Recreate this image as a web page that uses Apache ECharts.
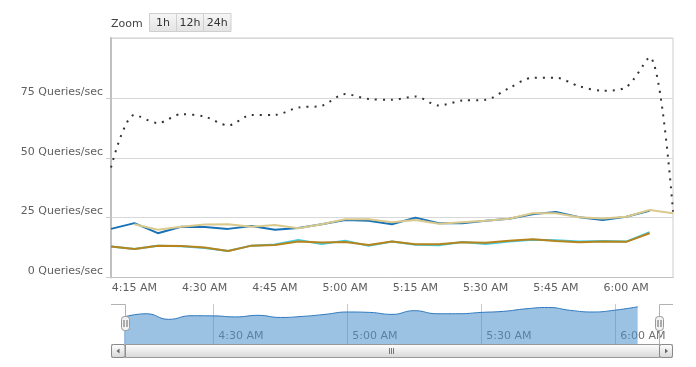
<!DOCTYPE html>
<html>
<head>
<meta charset="utf-8">
<script src="https://cdn.jsdelivr.net/npm/echarts@6/dist/echarts.min.js"></script>
<style>
html,body{margin:0;padding:0;background:#fff;}
#chart{width:696px;height:367px;}
</style>
</head>
<body>
<div id="chart"></div>
<script>
// Time categories (every 5 minutes)
var times = ['4:10','4:15','4:20','4:25','4:30','4:35','4:40','4:45','4:50','4:55',
             '5:00','5:05','5:10','5:15','5:20','5:25','5:30','5:35','5:40','5:45',
             '5:50','5:55','6:00','6:05','6:10'];

// Series values (Queries/sec)
var seriesBlue  = [20.3,22.7,18.5,21.2,21.1,20.3,21.5,19.9,20.7,22.2,24.0,23.7,22.2,25.0,22.7,22.7,23.7,24.5,26.4,27.4,25.2,24.0,25.4,27.9,null];
var seriesKhaki = [null,22.2,19.9,21.2,22.1,22.2,21.2,21.9,20.6,22.2,24.3,24.3,23.1,24.0,22.4,23.1,23.7,24.5,26.8,26.8,25.2,24.6,25.4,28.2,26.8];
var seriesCyan  = [12.9,11.9,13.3,13.0,12.3,11.1,13.3,13.8,15.7,14.0,15.4,13.2,15.0,13.7,13.5,14.8,14.0,15.0,15.8,15.6,15.0,15.2,15.0,18.9,null];
var seriesBrown = [12.9,11.9,13.3,13.2,12.5,11.1,13.3,13.6,15.0,14.6,14.8,13.6,15.0,13.9,13.9,14.7,14.5,15.3,16.0,15.2,14.7,15.0,14.9,18.5,null];
var seriesTotal = [45.9,67.9,64.5,68.2,67.2,63.5,67.9,67.9,71.0,71.7,76.6,74.5,74.2,75.6,71.8,73.9,74.2,79.1,83.4,83.4,79.8,78.0,79.5,92.0,27.5];

// Tick labels
var mainTickLabels = ['4:15','4:30','4:45','5:00','5:15','5:30','5:45','6:00'];
var navTickLabels = ['4:30','5:00','5:30','6:00'];
var yTicks = [0, 25, 50, 75, 100];
var zoomButtons = ['1h','12h','24h'];

var FONT = 'DejaVu Sans';
var chart = echarts.init(document.getElementById('chart'), null, {renderer:'canvas'});

function lineSeries(name, data, color, z) {
  return {
    name: name, type: 'line', data: data, xAxisIndex: 0, yAxisIndex: 0,
    showSymbol: false, symbol: 'none', z: z,
    lineStyle: {color: color, width: 2},
    itemStyle: {color: color},
    animation: false
  };
}

// Scrollbar / navigator decorations
var graphics = [
  {type:'text', left: 111, top: 18.5, style:{text:'Zoom', font:'11px "'+FONT+'"', fill:'#444'}},
];
var bx = 149, bws = [27, 27, 27.5];
zoomButtons.forEach(function(t, i){
  graphics.push({type:'rect', shape:{x:bx+0.5, y:13.5, width:bws[i], height:18}, style:{fill:new echarts.graphic.LinearGradient(0,0,0,1,[{offset:0,color:'#f7f7f7'},{offset:1,color:'#e3e3e3'}]), stroke:'#cfcfcf', lineWidth:1}, z:10});
  graphics.push({type:'text', x: bx + bws[i]/2 + 0.5, y: 23.5, style:{text:t, font:'11px "'+FONT+'"', fill:'#333', align:'center', verticalAlign:'middle'}, z:11});
  bx += bws[i];
});
// navigator outline
graphics.push({type:'polyline', shape:{points:[[111,304.5],[125.5,304.5],[125.5,344]]}, style:{stroke:'#b2b1b6', lineWidth:1, fill:null}, z:20});
graphics.push({type:'polyline', shape:{points:[[659.5,344],[659.5,304.5],[673,304.5]]}, style:{stroke:'#b2b1b6', lineWidth:1, fill:null}, z:20});
// handles
[125.5, 659.5].forEach(function(cx){
  graphics.push({type:'rect', shape:{x:cx-4, y:316.5, width:8, height:14, r:3}, style:{fill:'#f2f2f2', stroke:'#999', lineWidth:1}, z:21});
  graphics.push({type:'line', shape:{x1:cx-1.5, y1:320, x2:cx-1.5, y2:327}, style:{stroke:'#666', lineWidth:1}, z:22});
  graphics.push({type:'line', shape:{x1:cx+1.5, y1:320, x2:cx+1.5, y2:327}, style:{stroke:'#666', lineWidth:1}, z:22});
});
// scrollbar
var sbGrad = new echarts.graphic.LinearGradient(0,0,0,1,[{offset:0,color:'#ffffff'},{offset:1,color:'#d6d6d6'}]);
graphics.push({type:'rect', shape:{x:111.5, y:344.5, width:561, height:13}, style:{fill:'#eeeeee', stroke:'#bbb', lineWidth:1}, z:20});
graphics.push({type:'rect', shape:{x:125.5, y:344.5, width:534, height:13}, style:{fill:sbGrad, stroke:'#999', lineWidth:1}, z:21});
graphics.push({type:'rect', shape:{x:111.5, y:344.5, width:13.5, height:13, r:2}, style:{fill:sbGrad, stroke:'#888', lineWidth:1}, z:22});
graphics.push({type:'rect', shape:{x:659.5, y:344.5, width:13, height:13, r:2}, style:{fill:sbGrad, stroke:'#888', lineWidth:1}, z:22});
graphics.push({type:'polygon', shape:{points:[[119.5,348.5],[119.5,353.5],[116.5,351]]}, style:{fill:'#666'}, z:23});
graphics.push({type:'polygon', shape:{points:[[665,348.5],[665,353.5],[668,351]]}, style:{fill:'#666'}, z:23});
[389.5, 391.5, 393.5].forEach(function(gx){
  graphics.push({type:'line', shape:{x1:gx, y1:348, x2:gx, y2:354}, style:{stroke:'#777', lineWidth:1}, z:23});
});

function fmtAMPM(t){ return t + ' AM'; }

var option = {
  backgroundColor: '#ffffff',
  animation: false,
  textStyle: {fontFamily: FONT},
  grid: [
    {left: 111, right: 23, top: 38, height: 239.5, show: true, borderColor: '#cccccc', borderWidth: 1, backgroundColor: 'transparent'},
    {left: 124, right: 36, top: 304, height: 40, show: false}
  ],
  xAxis: [
    {
      type: 'category', gridIndex: 0, data: times, boundaryGap: false,
      axisLine: {show: true, lineStyle: {color: '#c0c0c0', width: 1}},
      axisTick: {show: false},
      splitLine: {show: false},
      axisLabel: {
        color: '#606060', fontSize: 11, fontFamily: FONT, margin: 5,
        interval: function(idx, val){ return mainTickLabels.indexOf(val) >= 0; },
        formatter: function(val){ return fmtAMPM(val); }
      }
    },
    {
      type: 'category', gridIndex: 1, data: times, boundaryGap: false,
      axisLine: {show: false}, axisTick: {show: false},
      splitLine: {show: true, interval: function(idx, val){ return navTickLabels.indexOf(val) >= 0; }, lineStyle: {color: '#c8c8c8', width: 1}},
      axisLabel: {
        inside: true, color: '#707070', fontSize: 11, fontFamily: FONT, margin: 2, align: 'left', padding: [0,0,0,5],
        interval: function(idx, val){ return navTickLabels.indexOf(val) >= 0; },
        formatter: function(val){ return fmtAMPM(val); }
      }
    }
  ],
  yAxis: [
    {
      type: 'value', gridIndex: 0, min: yTicks[0], max: yTicks[yTicks.length-1], interval: yTicks[1]-yTicks[0],
      axisLine: {show: true, lineStyle: {color: '#c0c0c0', width: 2}},
      axisTick: {show: true, length: 5, lineStyle: {color: '#cccccc'}},
      splitLine: {show: true, lineStyle: {color: '#d8d8d8', width: 1}},
      axisLabel: {color: '#606060', fontSize: 11, fontFamily: FONT, margin: 8, showMaxLabel: false,
        verticalAlign: 'bottom', lineHeight: 12, padding: [0,0,0,0],
        formatter: '{value} Queries/sec'}
    },
    {
      type: 'value', gridIndex: 1, min: 0, max: 30, show: false
    }
  ],
  graphic: graphics,
  series: [
    lineSeries('Series A', seriesBlue, '#1a72b6', 3),
    lineSeries('Series B', seriesKhaki, '#d9c98c', 4),
    lineSeries('Series C', seriesCyan, '#42cce4', 5),
    lineSeries('Series D', seriesBrown, '#b5841d', 6),
    {
      name: 'Total', type: 'line', data: seriesTotal, smooth: 0.3, showSymbol: false, symbol: 'none', z: 7,
      lineStyle: {color: '#333', width: 2, type: [2, 6], cap: 'butt'},
      animation: false
    },
    {
      name: 'Navigator', type: 'line', data: seriesBlue, xAxisIndex: 1, yAxisIndex: 1, smooth: 0.5,
      showSymbol: false, symbol: 'none', z: 2,
      lineStyle: {color: '#2f78c0', width: 1},
      areaStyle: {color: '#4a90cc', opacity: 0.55},
      animation: false
    }
  ]
};
chart.setOption(option);
</script>
</body>
</html>
